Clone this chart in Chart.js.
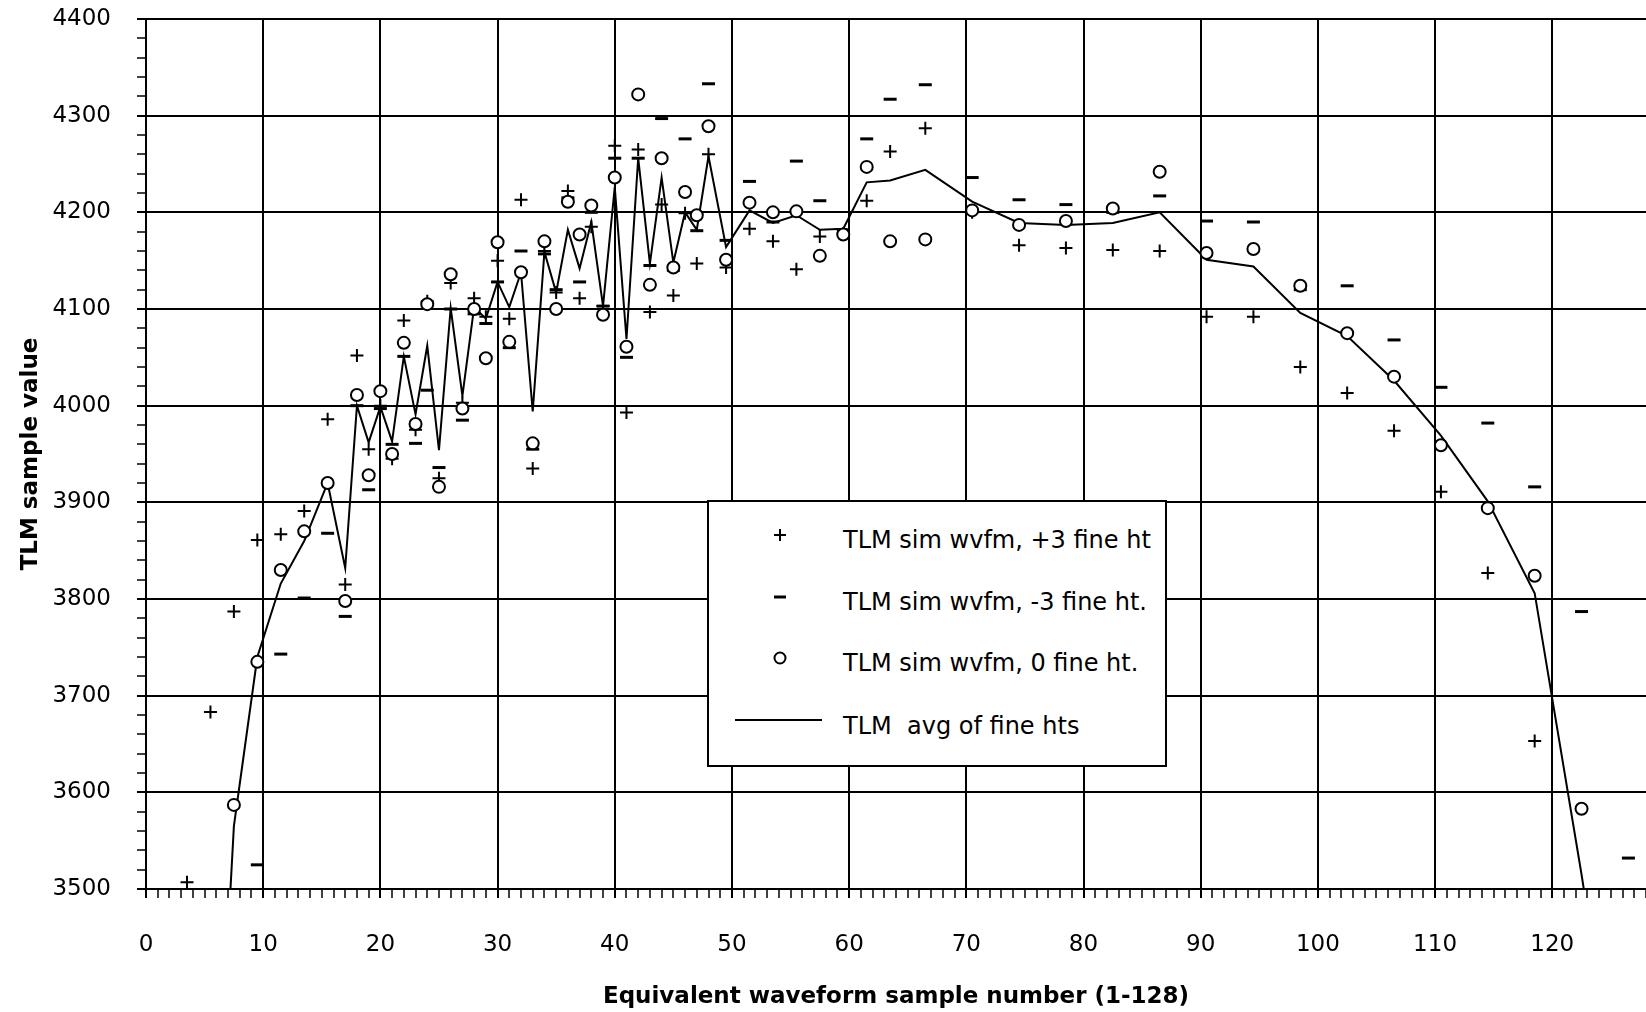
<!DOCTYPE html>
<html>
<head>
<meta charset="utf-8">
<script src="https://cdn.jsdelivr.net/npm/chart.js@4.4.1/dist/chart.umd.min.js"></script>
<style>
  body { margin: 0; background: #fff; }
  #wrap { position: relative; width: 1646px; height: 1012px; }
  #legend {
    position: absolute; left: 707px; top: 500px; width: 456px; height: 263px;
    border: 2px solid #000; background: #fff;
    font-family: "DejaVu Sans", sans-serif; font-size: 24px; color: #000;
  }
  #legend svg { position: absolute; left: 0; top: 0; }
  .row { position: absolute; left: 134px; height: 24px; line-height: 24px; white-space: nowrap; }
</style>
</head>
<body>
<div id="wrap">
  <canvas id="chart" width="1646" height="1012"></canvas>
  <div id="legend">
    <svg width="456" height="263">
      <path d="M65 33 H77 M71 27 V39" stroke="#000" stroke-width="2"/>
      <path d="M65 95 H77" stroke="#000" stroke-width="3"/>
      <circle cx="71" cy="156" r="5.5" fill="#fff" stroke="#000" stroke-width="2"/>
      <path d="M26 218 H113" stroke="#000" stroke-width="2"/>
    </svg>
    <div class="row" style="top:26px">TLM sim wvfm, +3 fine ht</div>
    <div class="row" style="top:88px">TLM sim wvfm, -3 fine ht.</div>
    <div class="row" style="top:149px">TLM sim wvfm, 0 fine ht.</div>
    <div class="row" style="top:212px">TLM&nbsp; avg of fine hts</div>
  </div>
</div>
<script>
// sample numbers (x) shared by all series
const samples = [3.5, 5.5, 7.5, 9.5, 11.5, 13.5, 15.5, 17,
  18, 19, 20, 21, 22, 23, 24, 25, 26, 27, 28, 29, 30, 31, 32, 33,
  34, 35, 36, 37, 38, 39, 40, 41, 42, 43, 44, 45, 46, 47, 48,
  49.5, 51.5, 53.5, 55.5, 57.5, 59.5, 61.5, 63.5, 66.5,
  70.5, 74.5, 78.5, 82.5, 86.5, 90.5, 94.5, 98.5, 102.5, 106.5,
  110.5, 114.5, 118.5, 122.5, 126.5];

// +3 fine ht
const plus3 = [3507, 3683, 3787, 3861, 3867, 3891, 3986, 3815,
  4052, 3955, 4000, 3945, 4088, 3975, 4108, 3925, 4127, 4003, 4111, 4092, 4150, 4090, 4213, 3935,
  4160, 4117, 4222, 4111, 4185, 4103, 4269, 3993, 4265, 4097, 4208, 4114, 4199, 4147, 4260,
  4143, 4183, 4170, 4141, 4175, 4178, 4212, 4263, 4287,
  4200, 4166, 4163, 4161, 4160, 4092, 4092, 4040, 4013, 3974,
  3911, 3827, 3653, null, null];

// -3 fine ht
const minus3 = [null, null, null, 3525, 3743, 3801, 3868, 3782,
  4000, 3913, 3997, 3960, 4051, 3961, 4016, 3936, 4100, 3985, 4095, 4085, 4128, 4060, 4160, 3955,
  4157, 4120, 4215, 4128, 4200, 4103, 4256, 4050, 4256, 4145, 4297, 4140, 4276, 4181, 4333,
  4171, 4232, 4190, 4253, 4212, 4182, 4276, 4317, 4332,
  4236, 4213, 4208, 4200, 4217, 4191, 4190, 4120, 4124, 4068,
  4019, 3982, 3916, 3787, 3532];

// 0 fine ht
const zero = [null, null, 3587, 3735, 3830, 3870, 3920, 3798,
  4011, 3928, 4015, 3950, 4065, 3981, 4105, 3916, 4136, 3997, 4100, 4049, 4169, 4066, 4138, 3961,
  4170, 4100, 4211, 4177, 4207, 4094, 4236, 4061, 4322, 4125, 4256, 4143, 4221, 4197, 4289,
  4151, 4210, 4200, 4201, 4155, 4177, 4247, 4170, 4172,
  4202, 4187, 4191, 4204, 4242, 4158, 4162, 4124, 4075, 4030,
  3959, 3894, 3824, 3583, null];

// avg of fine hts
const avg = [null, 3120, 3565, 3740, 3816, 3860, 3920, 3832,
  4000, 3962, 3999, 3963, 4051, 3991, 4062, 3954, 4101, 4010, 4102, 4090, 4128, 4102, 4138, 3994,
  4159, 4117, 4182, 4142, 4190, 4103, 4226, 4069, 4256, 4147, 4236, 4148, 4200, 4182, 4258,
  4164, 4202, 4189, 4197, 4182, 4183, 4231, 4233, 4244,
  4211, 4189, 4187, 4189, 4200, 4151, 4144, 4096, 4072, 4026,
  3969, 3901, 3806, 3515, 3200];

const xTicks = [0, 10, 20, 30, 40, 50, 60, 70, 80, 90, 100, 110, 120];
const yTicks = [3500, 3600, 3700, 3800, 3900, 4000, 4100, 4200, 4300, 4400];

function pts(values) {
  return samples.map((x, i) => ({ x, y: values[i] })).filter(p => p.y !== null);
}

const isMajor = (v, list) => list.includes(Math.round(v));

Chart.defaults.font.family = "'DejaVu Sans', sans-serif";
Chart.defaults.color = "#000";

new Chart(document.getElementById("chart"), {
  type: "scatter",
  data: {
    datasets: [
      {
        label: "TLM sim wvfm, 0 fine ht.",
        data: pts(zero),
        pointStyle: "circle",
        pointRadius: 6,
        borderWidth: 2,
        borderColor: "#000",
        backgroundColor: "#fff",
        clip: false
      },
      {
        label: "TLM sim wvfm, -3 fine ht.",
        data: pts(minus3),
        pointStyle: "line",
        pointRadius: 6.5,
        borderWidth: 3,
        borderColor: "#000",
        clip: false
      },
      {
        label: "TLM sim wvfm, +3 fine ht",
        data: pts(plus3),
        pointStyle: "cross",
        pointRadius: 6.5,
        borderWidth: 2,
        borderColor: "#000",
        clip: false
      },
      {
        label: "TLM  avg of fine hts",
        data: pts(avg),
        showLine: true,
        pointRadius: 0,
        borderWidth: 2,
        borderColor: "#000",
        tension: 0,
        clip: 0
      }
    ]
  },
  options: {
    responsive: false,
    animation: false,
    devicePixelRatio: 1,
    layout: { autoPadding: false, padding: { top: 19, right: 0, bottom: 0, left: 0 } },
    plugins: {
      legend: { display: false },
      tooltip: { enabled: false }
    },
    scales: {
      x: {
        type: "linear",
        min: 0,
        max: 128,
        ticks: {
          stepSize: 1,
          autoSkip: false,
          maxRotation: 0,
          minRotation: 0,
          padding: 33,
          font: { size: 23 },
          callback: v => isMajor(v, xTicks) && Math.abs(v - Math.round(v)) < 1e-6 ? String(Math.round(v)) : ""
        },
        grid: {
          color: c => (c.tick && isMajor(c.tick.value, xTicks)) ? "#000" : "rgba(0,0,0,0)",
          lineWidth: 2,
          tickColor: "#000",
          tickLength: 9,
          tickWidth: c => (c.tick && isMajor(c.tick.value, xTicks)) ? 2 : 1.5
        },
        border: { color: "#000", width: 2 },
        title: {
          display: true,
          text: "Equivalent waveform sample number (1-128)",
          font: { size: 23, weight: "bold" },
          padding: { top: 0, bottom: 1 }
        },
        afterFit: s => {
          s.height = 123;
          s.paddingLeft = 0;
          s.paddingRight = 0;
        }
      },
      y: {
        type: "linear",
        min: 3500,
        max: 4400,
        ticks: {
          stepSize: 20,
          autoSkip: false,
          padding: 26,
          font: { size: 23 },
          callback: v => yTicks.includes(Math.round(v)) ? String(Math.round(v)) : ""
        },
        grid: {
          color: c => (c.tick && yTicks.includes(Math.round(c.tick.value))) ? "#000" : "rgba(0,0,0,0)",
          lineWidth: 2,
          tickColor: "#000",
          tickLength: 9,
          tickWidth: c => (c.tick && yTicks.includes(Math.round(c.tick.value))) ? 2 : 1.5
        },
        border: { color: "#000", width: 2 },
        title: {
          display: true,
          text: "TLM sample value",
          font: { size: 23, weight: "bold" },
          padding: { top: 17, bottom: 0 }
        },
        afterFit: s => {
          s.width = 146;
          s.paddingTop = 0;
          s.paddingBottom = 0;
        }
      }
    }
  }
});
</script>
</body>
</html>
